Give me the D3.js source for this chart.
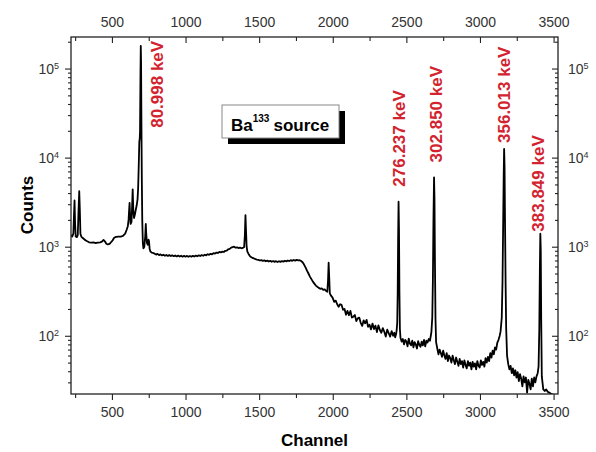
<!DOCTYPE html>
<html>
<head>
<meta charset="utf-8">
<script src="https://cdn.jsdelivr.net/npm/d3@7"></script>
<style>
  body { margin: 0; background: #fff; }
  svg { display: block; font-family: "Liberation Sans", Arial, sans-serif; }
</style>
</head>
<body>
<svg id="chart" width="596" height="452"></svg>
<script>
// Ba-133 gamma spectrum, [channel, counts]
const spectrum = [
  [222,1350],[230,1300],[238,1400],[242,2200],[246,3300],[250,1800],[254,1300],[262,1280],
  [268,1350],[273,2500],[278,4200],[282,2600],[286,1400],[292,1300],[300,1260],[310,1220],
  [320,1180],[332,1150],[345,1120],[360,1110],[375,1115],[390,1100],[405,1110],[420,1120],
  [432,1140],[443,1190],[452,1150],[462,1080],[472,1060],[484,1075],[495,1130],[505,1180],
  [515,1260],[528,1290],[545,1295],[560,1300],[575,1320],[590,1400],[600,1550],[608,1700],
  [613,2000],[617,2600],[620,3100],[623,2300],[627,1800],[633,1900],[637,2800],[641,4400],
  [645,2600],[650,2100],[656,2300],[662,2600],[668,2900],[674,3400],[678,4500],[682,8000],
  [686,15000],[689,16500],[691,20000],[694,90000],[696,180000],[698,120000],[700,30000],
  [703,6000],[706,2000],[710,1100],[714,960],[720,1000],[726,1300],[730,1800],[733,1400],
  [738,1100],[744,1050],[749,1200],[752,1150],[756,950],[762,880],[770,860],[780,850],
  [790,835],[800,815],[810,830],[820,805],[830,820],[840,798],[850,812],[860,792],[870,808],
  [880,788],[890,804],[900,785],[910,800],[920,782],[930,798],[940,778],[950,795],[960,775],
  [970,792],[980,773],[990,790],[1000,772],[1010,788],[1020,770],[1030,786],[1040,772],
  [1050,790],[1060,776],[1070,795],[1080,780],[1090,800],[1100,786],[1110,806],[1120,792],
  [1130,812],[1140,800],[1150,822],[1160,810],[1170,832],[1180,822],[1190,846],[1200,836],
  [1210,860],[1220,850],[1230,875],[1240,862],[1250,882],[1260,872],[1270,900],[1280,905],
  [1290,935],[1300,945],[1310,975],[1320,990],[1330,1000],[1340,975],[1350,985],[1360,965],
  [1370,975],[1380,960],[1390,970],[1398,990],[1403,1350],[1407,2260],[1411,1500],[1415,1000],
  [1420,880],[1428,830],[1436,790],[1445,765],[1455,748],[1465,738],[1475,725],[1485,718],
  [1495,712],[1505,700],[1515,708],[1525,692],[1535,702],[1545,686],[1555,698],[1565,682],
  [1575,694],[1585,678],[1595,690],[1605,676],[1615,688],[1625,672],[1635,686],[1645,675],
  [1655,690],[1665,680],[1675,695],[1685,684],[1695,700],[1705,690],[1715,706],[1725,694],
  [1735,710],[1745,698],[1755,712],[1765,702],[1775,706],[1785,690],[1795,668],[1805,630],
  [1815,585],[1825,540],[1835,500],[1845,462],[1855,432],[1865,405],[1875,385],[1885,366],
  [1895,355],[1905,345],[1915,337],[1925,340],[1935,328],[1945,332],[1955,318],[1963,312],
  [1968,420],[1972,660],[1976,450],[1980,300],[1988,282],[1996,272],
  [2000,265],[2010,240],[2020,248],[2030,226],[2040,212],[2050,226],[2060,222],[2070,196],
  [2080,200],[2090,172],[2100,190],[2110,170],[2120,190],[2130,160],[2140,164],[2150,171],
  [2160,146],[2170,157],[2180,160],[2190,140],[2200,129],[2210,149],[2220,138],[2230,151],
  [2240,126],[2250,133],[2260,118],[2270,137],[2280,119],[2290,130],[2300,110],[2310,131],
  [2320,116],[2330,108],[2340,122],[2350,111],[2360,98],[2370,117],[2380,107],[2390,98],
  [2400,113],[2410,100],[2418,108],[2424,96],[2430,104],[2434,115],[2438,140],[2441,300],
  [2444,1200],[2447,3200],[2450,1500],[2453,300],[2456,120],
  [2460,95],[2468,86],[2476,92],[2484,80],[2492,90],[2500,86],[2508,76],[2516,93],[2524,82],
  [2532,78],[2540,88],[2548,74],[2556,85],[2564,80],[2572,72],[2580,87],[2588,79],[2596,75],
  [2604,86],[2612,78],[2620,90],[2628,76],[2636,88],[2644,84],[2652,92],[2660,88],[2666,100],
  [2670,110],[2676,160],[2680,400],[2684,2000],[2688,6000],[2691,3500],[2694,700],[2698,150],
  [2702,85],
  [2710,72],[2718,62],[2726,70],[2734,64],[2742,58],[2750,68],[2758,60],[2766,55],[2774,64],
  [2782,52],[2790,60],[2798,56],[2806,50],[2814,60],[2822,53],[2830,48],[2838,57],[2846,51],
  [2854,46],[2862,55],[2870,48],[2878,52],[2886,44],[2894,53],[2902,47],[2910,43],[2918,52],
  [2926,46],[2934,50],[2942,42],[2950,51],[2958,45],[2966,49],[2974,42],[2982,52],[2990,46],
  [2998,44],[3006,53],[3014,47],[3022,51],[3030,45],[3038,56],[3046,50],[3054,58],[3062,52],
  [3070,64],[3078,57],[3086,68],[3094,62],[3102,74],[3110,70],[3118,84],[3126,90],[3134,100],
  [3140,112],[3148,160],[3153,400],[3157,1500],[3161,6000],[3164,12500],[3167,8000],
  [3170,2000],[3174,400],[3178,120],[3184,60],
  [3192,48],[3200,42],[3208,46],[3216,38],[3224,43],[3232,36],[3240,41],[3248,34],[3256,39],
  [3264,31],[3272,37],[3280,33],[3288,27],[3296,35],[3304,30],[3312,34],[3320,23],[3328,32],
  [3336,29],[3344,25],[3352,33],[3360,27],[3368,34],[3376,30],[3384,35],[3392,38],[3398,45],
  [3403,120],[3407,600],[3410,1400],[3413,900],[3416,150],
  [3420,35],[3430,25],[3440,24],[3450,25],[3460,23.5],[3470,23],[3480,22.5],[3490,22],
  [3500,21.5],[3510,21],[3530,20]
];

const peakLabels = ["80.998 keV", "276.237 keV", "302.850 keV", "356.013 keV", "383.849 keV"];
const peakChannels = [696, 2447, 2688, 3164, 3410];
const peakCounts = [180000, 3200, 6000, 12500, 1400];

const xMajorTicks = [500, 1000, 1500, 2000, 2500, 3000, 3500];
const xMinorTicks = [250, 750, 1250, 1750, 2250, 2750, 3250];
const yMajorTicks = [1e2, 1e3, 1e4, 1e5];

const svg = d3.select("#chart");
const plotLeft = 71, plotRight = 558, plotTop = 37, plotBottom = 394;

const x = d3.scaleLinear().domain([222, 3530]).range([plotLeft, plotRight]);
const y = d3.scaleLog().domain([22.2, 2.26e5]).range([plotBottom, plotTop]);

const yMinorTicks = [];
for (let e = 1; e <= 5; e++) {
  for (let m = 2; m <= 9; m++) {
    const v = m * Math.pow(10, e);
    if (v > y.domain()[0] && v < y.domain()[1]) yMinorTicks.push(v);
  }
}

svg.append("clipPath").attr("id", "plotClip")
  .append("rect").attr("x", plotLeft).attr("y", plotTop)
  .attr("width", plotRight - plotLeft).attr("height", plotBottom - plotTop);

// spectrum
const line = d3.line().x(d => x(d[0])).y(d => y(d[1]));
svg.append("path")
  .datum(spectrum)
  .attr("clip-path", "url(#plotClip)")
  .attr("d", line)
  .attr("fill", "none")
  .attr("stroke", "#000")
  .attr("stroke-width", 1.8)
  .attr("stroke-linejoin", "round");

// frame
svg.append("rect")
  .attr("x", plotLeft).attr("y", plotTop)
  .attr("width", plotRight - plotLeft).attr("height", plotBottom - plotTop)
  .attr("fill", "none").attr("stroke", "#222").attr("stroke-width", 1.3);

function styleAxis(g) {
  g.select(".domain").remove();
  g.selectAll("line").attr("stroke", "#222").attr("stroke-width", 1.1);
  g.selectAll("text").attr("fill", "#333").style("font-size", "14px");
}

function powerLabels(g) {
  g.selectAll(".tick text").each(function (d) {
    const t = d3.select(this);
    t.text("");
    t.append("tspan").text("10");
    t.append("tspan").attr("dy", "-0.55em").style("font-size", "9px")
      .text(Math.round(Math.log10(d)));
  });
}

// bottom
svg.append("g").attr("transform", `translate(0,${plotBottom})`)
  .call(d3.axisBottom(x).tickValues(xMajorTicks).tickSize(6).tickPadding(7).tickFormat(d3.format("d")))
  .call(styleAxis);
svg.append("g").attr("transform", `translate(0,${plotBottom})`)
  .call(d3.axisBottom(x).tickValues(xMinorTicks).tickSize(4).tickFormat(""))
  .call(styleAxis);

// top (ticks inward)
svg.append("g").attr("transform", `translate(0,${plotTop})`)
  .call(d3.axisTop(x).tickValues(xMajorTicks).tickSize(-6).tickPadding(10).tickFormat(d3.format("d")))
  .call(styleAxis);
svg.append("g").attr("transform", `translate(0,${plotTop})`)
  .call(d3.axisTop(x).tickValues(xMinorTicks).tickSize(-4).tickFormat(""))
  .call(styleAxis);

// left
svg.append("g").attr("transform", `translate(${plotLeft},0)`)
  .call(d3.axisLeft(y).tickValues(yMajorTicks).tickSize(6).tickPadding(6))
  .call(styleAxis).call(powerLabels);
svg.append("g").attr("transform", `translate(${plotLeft},0)`)
  .call(d3.axisLeft(y).tickValues(yMinorTicks).tickSize(3).tickFormat(""))
  .call(styleAxis);

// right (ticks inward)
svg.append("g").attr("transform", `translate(${plotRight},0)`)
  .call(d3.axisRight(y).tickValues(yMajorTicks).tickSize(-6).tickPadding(10))
  .call(styleAxis).call(powerLabels);
svg.append("g").attr("transform", `translate(${plotRight},0)`)
  .call(d3.axisRight(y).tickValues(yMinorTicks).tickSize(-3).tickFormat(""))
  .call(styleAxis);

// axis titles
svg.append("text")
  .attr("x", (plotLeft + plotRight) / 2).attr("y", 446)
  .attr("text-anchor", "middle")
  .style("font-size", "17px").style("font-weight", "bold")
  .text("Channel");

svg.append("text")
  .attr("transform", `translate(33,205) rotate(-90)`)
  .attr("text-anchor", "middle")
  .style("font-size", "17px").style("font-weight", "bold")
  .text("Counts");

// peak energy labels: pixel offset from each peak top
const labelOffsets = [[22, 82], [6, -15], [8, -15], [6, -6], [4, -2]];
svg.selectAll(".peakLabel")
  .data(peakLabels)
  .join("text")
  .attr("class", "peakLabel")
  .attr("transform", (d, i) => {
    const px = x(peakChannels[i]) + labelOffsets[i][0];
    const py = y(peakCounts[i]) + labelOffsets[i][1];
    return `translate(${px},${py}) rotate(-90)`;
  })
  .attr("fill", "#d2232f")
  .style("font-size", "17px").style("font-weight", "bold")
  .text(d => d);

// source box with shadow
const box = svg.append("g").attr("transform", "translate(222,105)");
box.append("rect").attr("x", 6).attr("y", 6).attr("width", 117).attr("height", 33).attr("fill", "#000");
box.append("rect").attr("x", 0).attr("y", 0).attr("width", 117).attr("height", 33)
  .attr("fill", "#fff").attr("stroke", "#888").attr("stroke-width", 1);
const boxText = box.append("text").attr("x", 9).attr("y", 26)
  .style("font-size", "17px").style("font-weight", "bold");
boxText.append("tspan").text("Ba");
boxText.append("tspan").attr("dy", "-9").style("font-size", "10px").text("133");
boxText.append("tspan").attr("dy", "9").attr("dx", "4").text("source");
</script>
</body>
</html>
